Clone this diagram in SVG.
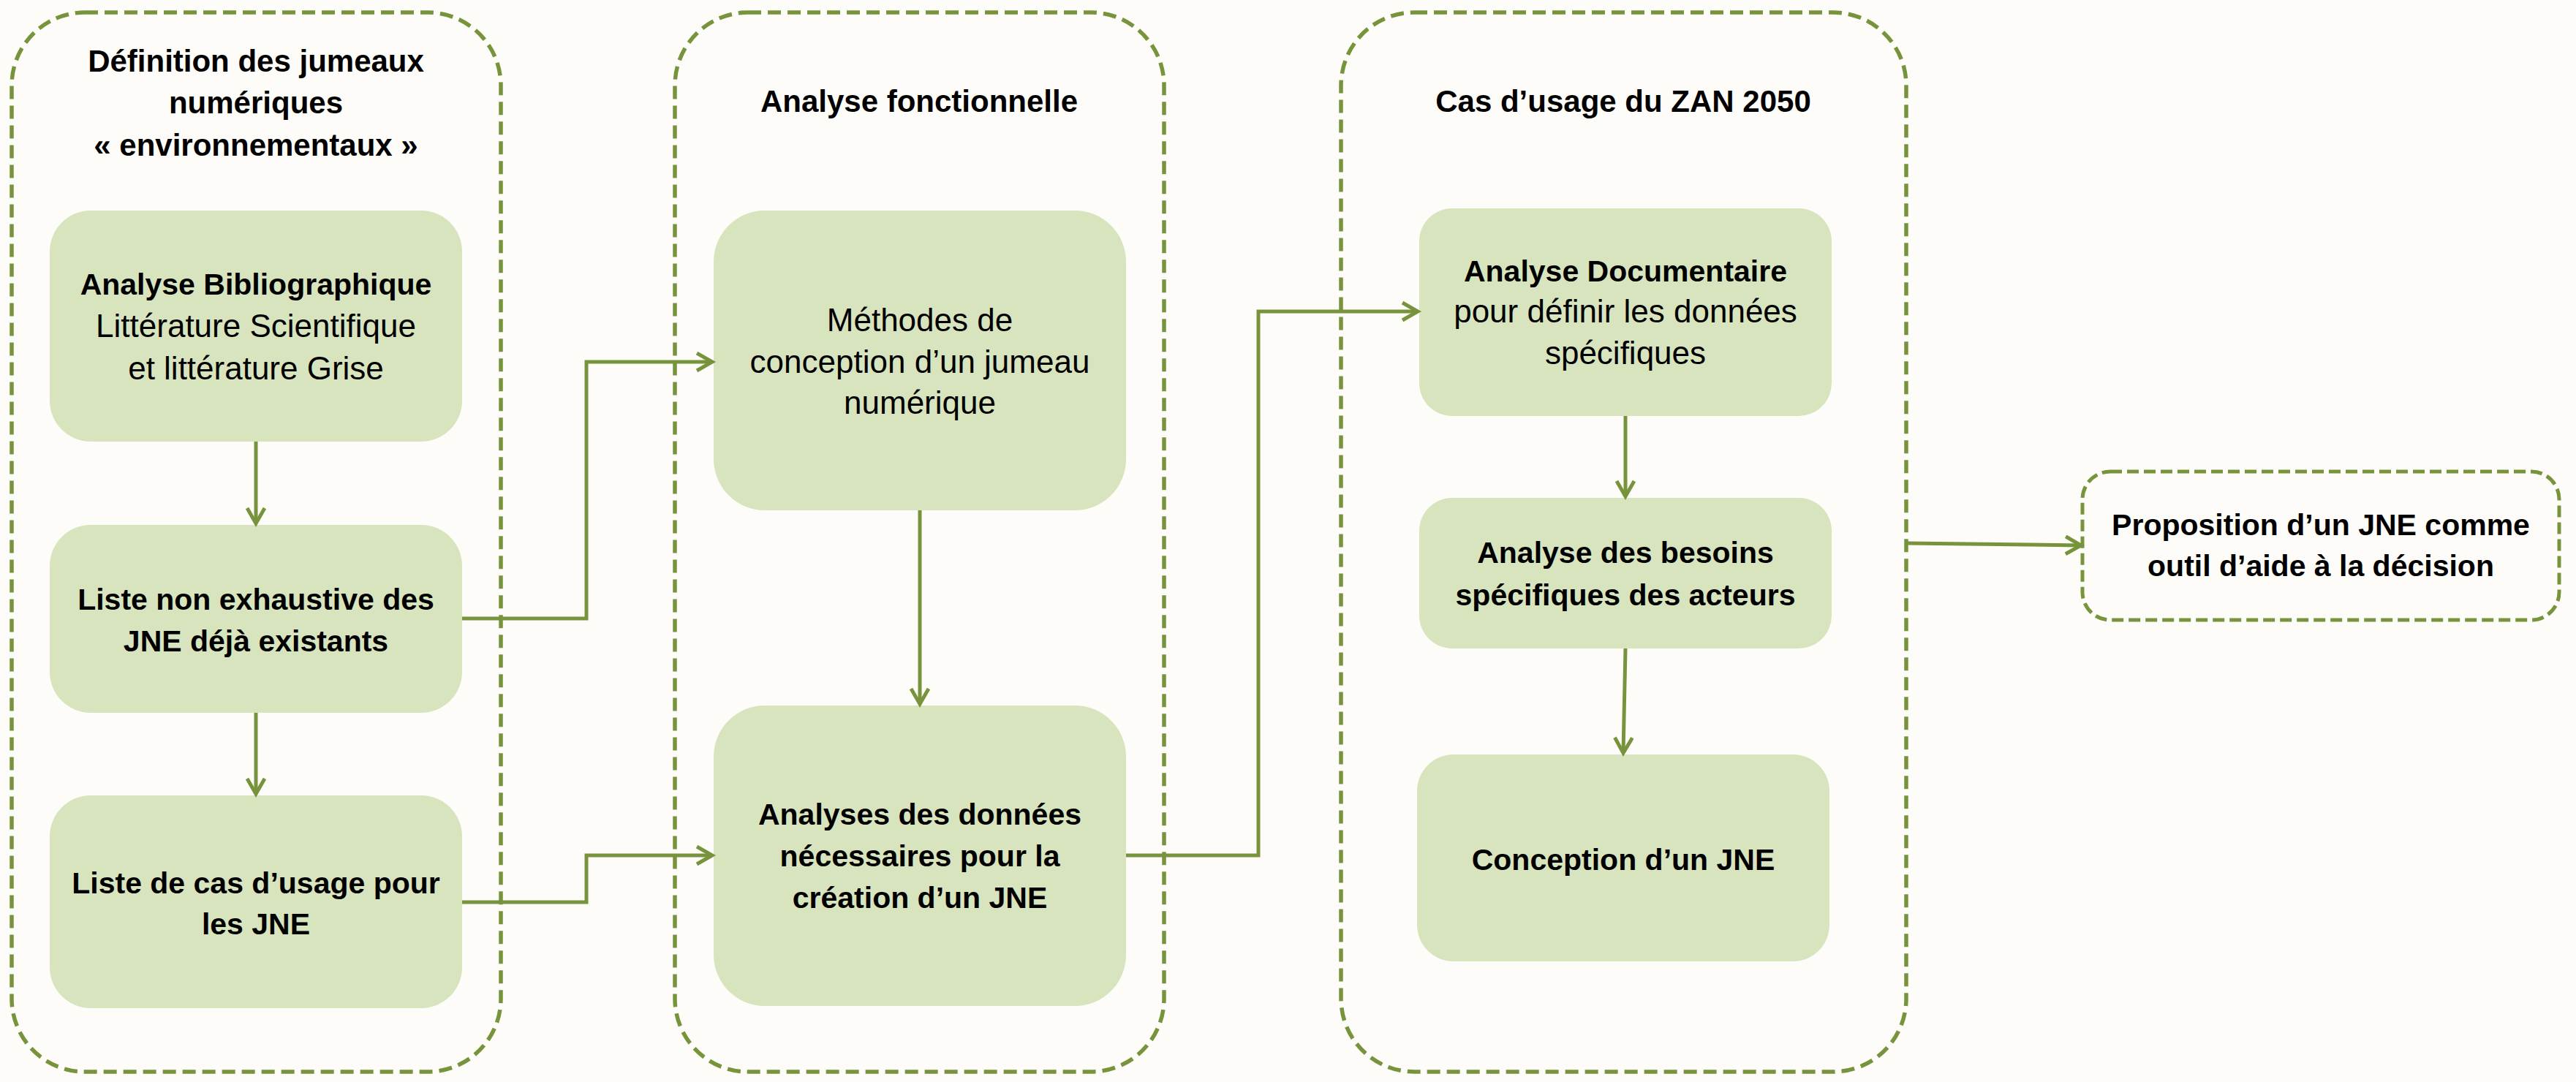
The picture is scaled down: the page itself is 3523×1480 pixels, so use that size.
<svg xmlns="http://www.w3.org/2000/svg" width="3523" height="1480" viewBox="0 0 3523 1480">
<defs>
<style>
.frame{fill:none;stroke:#77933C;stroke-width:5.5;stroke-dasharray:18 9}
.frame2{fill:none;stroke:#77933C;stroke-width:5;stroke-dasharray:16 7}
.node{fill:#D7E4BD}
.t{font-family:"Liberation Sans",Arial,sans-serif;fill:#000;text-anchor:middle}
.b{font-weight:bold;font-size:41px}
.h{font-weight:bold;font-size:42px}
.r{font-size:44px}
.c{fill:none;stroke:#77933C;stroke-width:5}
</style>
<marker id="arr" markerUnits="userSpaceOnUse" markerWidth="32" markerHeight="32" refX="24" refY="14" orient="auto" viewBox="0 0 32 32">
<path d="M3,2 L24,14 L3,26" fill="none" stroke="#77933C" stroke-width="5" stroke-linejoin="miter"/>
</marker>
</defs>
<rect x="0" y="0" width="3523" height="1480" fill="#FEFCF8"/>

<g id="group1">
<rect class="frame" x="16" y="17" width="669" height="1449" rx="100" ry="100"/>
<text class="t h" x="350" y="98">Définition des jumeaux</text>
<text class="t h" x="350" y="155">numériques</text>
<text class="t h" x="350" y="213">« environnementaux »</text>
</g>
<g id="group2">
<rect class="frame" x="923" y="17" width="669" height="1449" rx="100" ry="100"/>
<text class="t h" x="1257" y="153">Analyse fonctionnelle</text>
</g>
<g id="group3">
<rect class="frame" x="1834" y="17" width="773" height="1449" rx="100" ry="100"/>
<text class="t h" x="2220" y="153">Cas d’usage du ZAN 2050</text>
</g>

<g id="node-biblio">
<rect class="node" x="68" y="288" width="564" height="316" rx="56" ry="56"/>
<text class="t b" x="350" y="403">Analyse Bibliographique</text>
<text class="t r" x="350" y="461">Littérature Scientifique</text>
<text class="t r" x="350" y="519">et littérature Grise</text>
</g>
<g id="node-liste-jne">
<rect class="node" x="68" y="718" width="564" height="257" rx="56" ry="56"/>
<text class="t b" x="350" y="834">Liste non exhaustive des</text>
<text class="t b" x="350" y="891">JNE déjà existants</text>
</g>
<g id="node-liste-cas">
<rect class="node" x="68" y="1088" width="564" height="291" rx="56" ry="56"/>
<text class="t b" x="350" y="1222">Liste de cas d’usage pour</text>
<text class="t b" x="350" y="1278">les JNE</text>
</g>

<g id="node-methodes">
<rect class="node" x="976" y="288" width="564" height="410" rx="70" ry="70"/>
<text class="t r" x="1258" y="453">Méthodes de</text>
<text class="t r" x="1258" y="510">conception d’un jumeau</text>
<text class="t r" x="1258" y="566">numérique</text>
</g>
<g id="node-analyses">
<rect class="node" x="976" y="965" width="564" height="411" rx="70" ry="70"/>
<text class="t b" x="1258" y="1128">Analyses des données</text>
<text class="t b" x="1258" y="1185">nécessaires pour la</text>
<text class="t b" x="1258" y="1242">création d’un JNE</text>
</g>

<g id="node-documentaire">
<rect class="node" x="1941" y="285" width="564" height="284" rx="45" ry="45"/>
<text class="t b" x="2223" y="385">Analyse Documentaire</text>
<text class="t r" x="2223" y="441">pour définir les données</text>
<text class="t r" x="2223" y="498">spécifiques</text>
</g>
<g id="node-besoins">
<rect class="node" x="1941" y="681" width="564" height="206" rx="45" ry="45"/>
<text class="t b" x="2223" y="770">Analyse des besoins</text>
<text class="t b" x="2223" y="828">spécifiques des acteurs</text>
</g>
<g id="node-conception">
<rect class="node" x="1938" y="1032" width="564" height="283" rx="50" ry="50"/>
<text class="t b" x="2220" y="1190">Conception d’un JNE</text>
</g>

<g id="node-proposition">
<rect class="frame2" x="2848" y="645" width="652" height="203" rx="38" ry="38"/>
<text class="t b" x="3174" y="732">Proposition d’un JNE comme</text>
<text class="t b" x="3174" y="788">outil d’aide à la décision</text>
</g>

<g id="connectors">
<path class="c" d="M350,604 L350,716" marker-end="url(#arr)"/>
<path class="c" d="M350,975 L350,1086" marker-end="url(#arr)"/>
<path class="c" d="M632,846 L802,846 L802,495 L974,495" marker-end="url(#arr)"/>
<path class="c" d="M632,1234 L802,1234 L802,1170 L974,1170" marker-end="url(#arr)"/>
<path class="c" d="M1258,698 L1258,963" marker-end="url(#arr)"/>
<path class="c" d="M1540,1170 L1721,1170 L1721,426 L1939,426" marker-end="url(#arr)"/>
<path class="c" d="M2223,569 L2223,679" marker-end="url(#arr)"/>
<path class="c" d="M2223,887 L2220,1030" marker-end="url(#arr)"/>
<path class="c" d="M2607,743 L2846,746" marker-end="url(#arr)"/>
</g>
</svg>
